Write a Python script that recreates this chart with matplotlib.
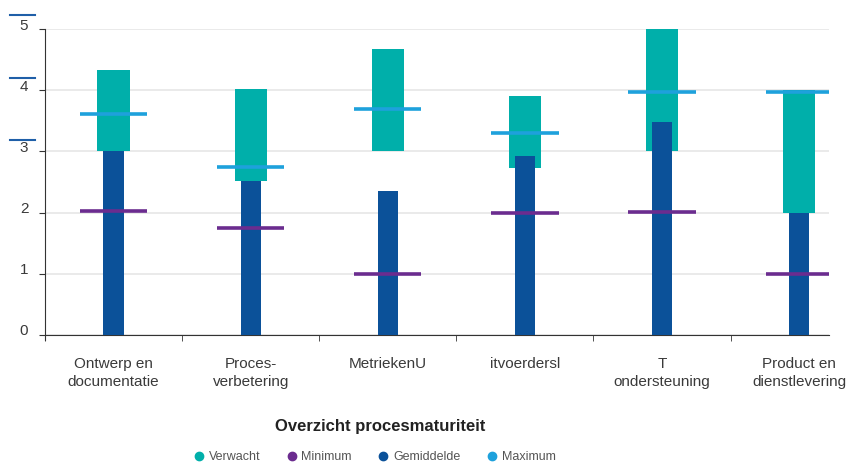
import numpy as np
import matplotlib.pyplot as plt
from matplotlib.lines import Line2D
from matplotlib.transforms import ScaledTranslation

plt.rcParams["font.family"] = ["Liberation Sans", "DejaVu Sans"]

categories = ["Ontwerp en\ndocumentatie", "Proces-\nverbetering", "MetriekenU",
              "itvoerdersl", "T\nondersteuning", "Product en\ndienstlevering"]
verwacht_low = [3.0, 2.52, 3.0, 2.73, 3.0, 2.0]
verwacht_high = [4.33, 4.02, 4.67, 3.9, 5.0, 4.0]
gemiddelde = [3.0, 2.52, 2.35, 2.92, 3.48, 2.0]
minimum = [2.02, 1.75, 1.0, 1.99, 2.01, 1.0]
maximum = [3.61, 2.74, 3.69, 3.31, 3.98, 3.98]

c_verwacht = "#00afaa"
c_min = "#6b2c8f"
c_gem = "#0b5199"
c_max = "#1ea1dc"
txt = "#3a3a3a"

fig = plt.figure(figsize=(8.48, 4.63), dpi=100)
ax = fig.add_axes([0.053, 0.2765, 0.925, 0.6605])

x = np.arange(len(categories))
ax.bar(x, np.array(verwacht_high) - np.array(verwacht_low), bottom=verwacht_low,
       width=0.234, color=c_verwacht, zorder=2)
ax.bar(x, gemiddelde, width=0.146, color=c_gem, zorder=3)
ax.hlines(minimum, x - 0.245, x + 0.245, color=c_min, lw=2.6, zorder=4)
ax.hlines(maximum, x - 0.245, x + 0.245, color=c_max, lw=2.6, zorder=4)

ax.set_xlim(-0.5, 5.22)
ax.set_ylim(0, 5)
ax.set_yticks(range(6))
ax.yaxis.grid(True, color="#e6e6e6", lw=1.2, zorder=0)
ax.set_axisbelow(True)

ax.set_xticks(x)
ax.set_xticklabels(categories, fontsize=11, color=txt, linespacing=1.35)
ax.set_xticks(np.arange(-0.5, 5, 1), minor=True)
ax.tick_params(axis="x", which="major", length=0, pad=16)
ax.tick_params(axis="x", which="minor", length=4, color="#333333", direction="out")
ax.tick_params(axis="y", length=4, color="#333333", labelsize=11,
               labelcolor=txt, pad=8)
# labels sit a few pixels above their gridlines
shift = ScaledTranslation(0, 5 / 100, fig.dpi_scale_trans)
for lbl in ax.get_yticklabels():
    lbl.set_transform(lbl.get_transform() + shift)

for s in ["top", "right"]:
    ax.spines[s].set_visible(False)
ax.spines["left"].set_color("#333333")
ax.spines["bottom"].set_color("#333333")
ax.spines["left"].set_bounds(-0.08, 5)

# short blue marks beside the y labels
for yy in [15, 78, 140]:
    fig.add_artist(Line2D([10 / 848, 35 / 848], [1 - yy / 463, 1 - yy / 463],
                          color="#1f5fa8", lw=1.5))

fig.text(380 / 848, 1 - 427 / 463, "Overzicht procesmaturiteit", ha="center",
         va="center", fontsize=12, fontweight="bold", color="#222222")

handles = [Line2D([], [], marker="o", ls="", color=c, markersize=6)
           for c in [c_verwacht, c_min, c_gem, c_max]]
fig.legend(handles, ["Verwacht", "Minimum", "Gemiddelde", "Maximum"],
           loc="center", bbox_to_anchor=(374 / 848, 1 - 457 / 463), ncol=4,
           frameon=False, fontsize=9, labelcolor="#555555", handletextpad=0.3,
           columnspacing=2.0, handlelength=1.0)

fig.savefig("out.png", dpi=100)
